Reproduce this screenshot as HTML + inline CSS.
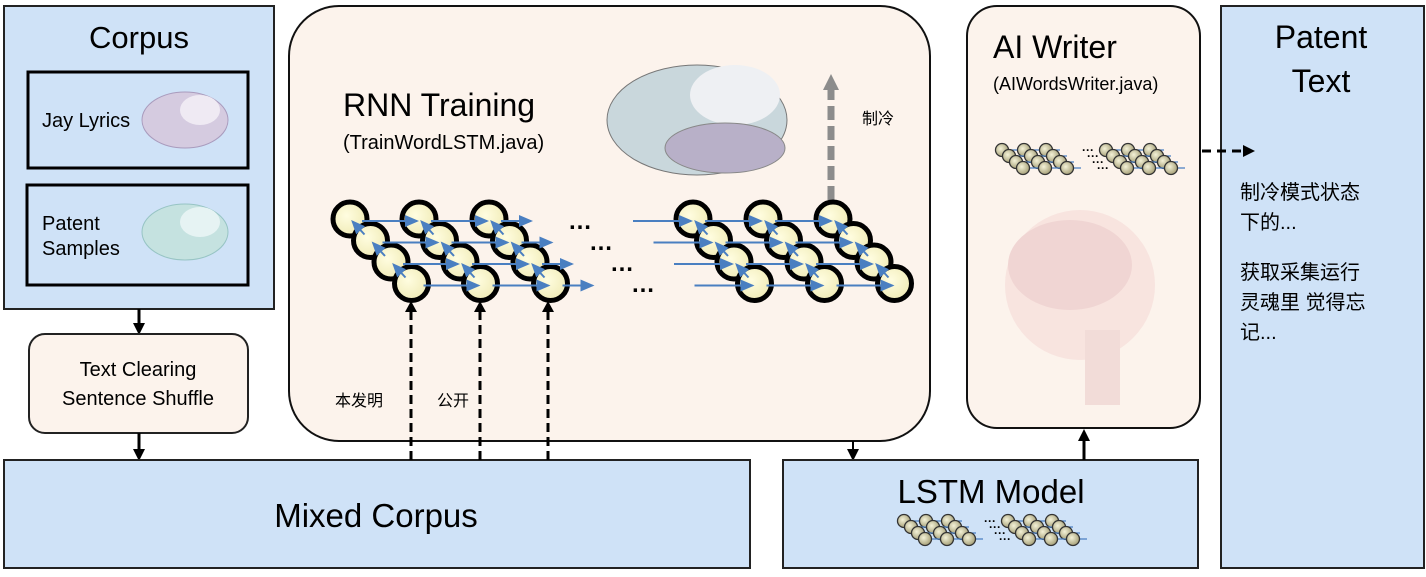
<!DOCTYPE html>
<html><head><meta charset="utf-8"><style>
body{margin:0;background:#fff;}
svg text{font-family:"Liberation Sans","Noto Sans CJK SC",sans-serif;}
</style></head><body>
<svg width="1426" height="572" viewBox="0 0 1426 572" xmlns="http://www.w3.org/2000/svg">
<defs>
<marker id="ab" markerWidth="12" markerHeight="12" refX="9" refY="6" orient="auto" markerUnits="userSpaceOnUse"><path d="M0,0 L12,6 L0,12z" fill="#000"/></marker>
<marker id="abl" markerWidth="14" markerHeight="12" refX="12" refY="6" orient="auto" markerUnits="userSpaceOnUse"><path d="M0,0 L14,6 L0,12z" fill="#4a7fc1"/></marker>
<marker id="ag" markerWidth="16" markerHeight="16" refX="8" refY="8" orient="auto" markerUnits="userSpaceOnUse"><path d="M0,0 L16,8 L0,16z" fill="#8c8c8c"/></marker>
<radialGradient id="cg" cx="0.4" cy="0.4" r="0.6"><stop offset="0" stop-color="#fffde0"/><stop offset="1" stop-color="#f1ecb8"/></radialGradient>
<radialGradient id="sg" cx="0.4" cy="0.4" r="0.6"><stop offset="0" stop-color="#f4f2d8"/><stop offset="1" stop-color="#a8a27a"/></radialGradient>
</defs>
<!-- Corpus -->
<rect x="4" y="6" width="270" height="303" fill="#cfe2f7" stroke="#222" stroke-width="2"/>
<text x="139" y="48" font-size="31" text-anchor="middle">Corpus</text>
<rect x="28" y="72" width="220" height="96" fill="none" stroke="#000" stroke-width="3"/>
<text x="42" y="127" font-size="20">Jay Lyrics</text>
<ellipse cx="185" cy="120" rx="43" ry="28" fill="#d5cbe0" stroke="#a99bbd"/>
<ellipse cx="200" cy="110" rx="20" ry="15" fill="#efeaf3"/>
<rect x="27" y="185" width="221" height="100" fill="none" stroke="#000" stroke-width="3"/>
<text x="42" y="230" font-size="20">Patent</text>
<text x="42" y="255" font-size="20">Samples</text>
<ellipse cx="185" cy="232" rx="43" ry="28" fill="#c5e2e0" stroke="#97c4c4"/>
<ellipse cx="200" cy="222" rx="20" ry="15" fill="#e6f3f3"/>
<line x1="139" y1="309" x2="139" y2="332" stroke="#000" stroke-width="3" marker-end="url(#ab)"/>
<rect x="29" y="334" width="219" height="99" rx="16" fill="#fcf3ec" stroke="#222" stroke-width="2"/>
<text x="138" y="376" font-size="20" text-anchor="middle">Text Clearing</text>
<text x="138" y="405" font-size="20" text-anchor="middle">Sentence Shuffle</text>
<line x1="139" y1="433" x2="139" y2="458" stroke="#000" stroke-width="3" marker-end="url(#ab)"/>
<!-- Mixed corpus -->
<rect x="4" y="460" width="746" height="108" fill="#cfe2f7" stroke="#222" stroke-width="2"/>
<text x="376" y="527" font-size="33" text-anchor="middle">Mixed Corpus</text>
<!-- RNN -->
<rect x="289" y="6" width="641" height="435" rx="50" fill="#fcf3ec" stroke="#111" stroke-width="2"/>
<text x="343" y="116" font-size="32">RNN Training</text>
<text x="343" y="149" font-size="20">(TrainWordLSTM.java)</text>
<ellipse cx="697" cy="120" rx="90" ry="55" fill="#c9d7dc" stroke="#777"/>
<ellipse cx="735" cy="95" rx="45" ry="30" fill="#eef0f3"/>
<ellipse cx="725" cy="148" rx="60" ry="25" fill="#b8b0c8" stroke="#888"/>
<line x1="831" y1="200" x2="831" y2="82" stroke="#8c8c8c" stroke-width="7" stroke-dasharray="14,6" marker-end="url(#ag)"/>
<text x="862" y="124" font-size="16">制冷</text>
<g id="net" stroke="#000" stroke-width="5" fill="url(#cg)"></g>
<text x="335" y="406" font-size="16">本发明</text>
<text x="437" y="406" font-size="16">公开</text>
<g stroke="#000" stroke-width="3" stroke-dasharray="9,5">
<line x1="411" y1="460" x2="411" y2="308"/><line x1="480" y1="460" x2="480" y2="308"/><line x1="548" y1="460" x2="548" y2="308"/>
</g>
<g fill="#000"><path d="M405,312 L411,301 L417,312z"/><path d="M474,312 L480,301 L486,312z"/><path d="M542,312 L548,301 L554,312z"/></g>
<g font-size="24" font-weight="bold">
<text x="568" y="229">…</text>
<text x="589" y="250">…</text>
<text x="610" y="271">…</text>
<text x="631" y="292">…</text>
</g>
<line x1="853" y1="441" x2="853" y2="458" stroke="#000" stroke-width="2" marker-end="url(#ab)"/>
<!-- LSTM -->
<rect x="783" y="460" width="415" height="108" fill="#cfe2f7" stroke="#222" stroke-width="2"/>
<text x="991" y="503" font-size="33" text-anchor="middle">LSTM Model</text>
<g id="small1"></g>
<line x1="1084" y1="460" x2="1084" y2="432" stroke="#000" stroke-width="3" marker-end="url(#ab)"/>
<!-- AI Writer -->
<rect x="967" y="6" width="233" height="422" rx="30" fill="#fcf3ec" stroke="#111" stroke-width="2"/>
<text x="993" y="58" font-size="32">AI Writer</text>
<text x="993" y="90" font-size="18">(AIWordsWriter.java)</text>
<g id="small2"></g>
<ellipse cx="1080" cy="285" rx="75" ry="75" fill="#f6e0dc" opacity="0.8"/>
<ellipse cx="1070" cy="265" rx="62" ry="45" fill="#f0d5d3"/>
<rect x="1085" y="330" width="35" height="75" fill="#f2dcd8"/>
<!-- Patent text -->
<rect x="1221" y="6" width="203" height="562" fill="#cfe2f7" stroke="#222" stroke-width="2"/>
<line x1="1202" y1="151" x2="1252" y2="151" stroke="#000" stroke-width="3" stroke-dasharray="9,6" marker-end="url(#ab)"/>
<text x="1321" y="48" font-size="32" text-anchor="middle">Patent</text>
<text x="1321" y="92" font-size="32" text-anchor="middle">Text</text>
<g font-size="20">
<text x="1240" y="199">制冷模式状态</text>
<text x="1240" y="229">下的...</text>
<text x="1240" y="279">获取采集运行</text>
<text x="1240" y="309">灵魂里 觉得忘</text>
<text x="1240" y="339">记...</text>
</g>
</svg>
<script>
var NS="http://www.w3.org/2000/svg";
function el(p,t,a){var e=document.createElementNS(NS,t);for(var k in a)e.setAttribute(k,a[k]);p.appendChild(e);return e;}
var net=document.getElementById('net');
var svg=document.querySelector('svg');
function group(xs,arrowsIn){
 for(var r=0;r<4;r++){
  for(var c=0;c<3;c++){
   var x=xs[c]+r*20.5,y=219+r*21.5;
   el(net,'circle',{cx:x,cy:y,r:17});
  }
 }
 for(var r=0;r<4;r++){
  for(var c=0;c<3;c++){
   var x=xs[c]+r*20.5,y=219+r*21.5;
   var x0=(c==0? (arrowsIn? x-60 : x+10) : xs[c-1]+r*20.5+12);
   if(c==0&&!arrowsIn) continue;
   el(svg,'line',{x1:x0,y1:y+2,x2:x-2,y2:y+2,stroke:'#4a7fc1','stroke-width':2,'marker-end':'url(#abl)'});
  }
  var xl=xs[2]+r*20.5;
  if(!arrowsIn) el(svg,'line',{x1:xl+12,y1:219+r*21.5+2,x2:xl+42,y2:219+r*21.5+2,stroke:'#4a7fc1','stroke-width':2,'marker-end':'url(#abl)'});
 }
 for(var r=0;r<3;r++)for(var c=0;c<3;c++){
   var x=xs[c]+(r+1)*20.5,y=219+(r+1)*21.5;
   el(svg,'line',{x1:x-6,y1:y-6,x2:x-18,y2:y-19,stroke:'#4a7fc1','stroke-width':2,'marker-end':'url(#abl)'});
 }
}
group([350,419,489],false);
group([693,763,833],true);
function small(id,x0,y0){
 var g=document.getElementById(id);
 [0,1].forEach(function(gi){
  var bx=x0+gi*104;
  for(var r=0;r<4;r++){
   el(g,'line',{x1:bx+r*7-4,y1:y0+r*6,x2:bx+r*7+58,y2:y0+r*6,stroke:'#4a7fc1','stroke-width':1.2});
   for(var c=0;c<3;c++){
    el(g,'circle',{cx:bx+c*22+r*7,cy:y0+r*6,r:6.5,fill:'url(#sg)',stroke:'#333','stroke-width':1.3});
   }
  }
 });
 for(var r=0;r<4;r++){el(g,'text',{x:x0+80+r*5,y:y0+r*6+4,'font-size':12,'font-weight':'bold'}).textContent='···';}
}
small('small2',1002,150);
small('small1',904,521);
</script>
</body></html>
